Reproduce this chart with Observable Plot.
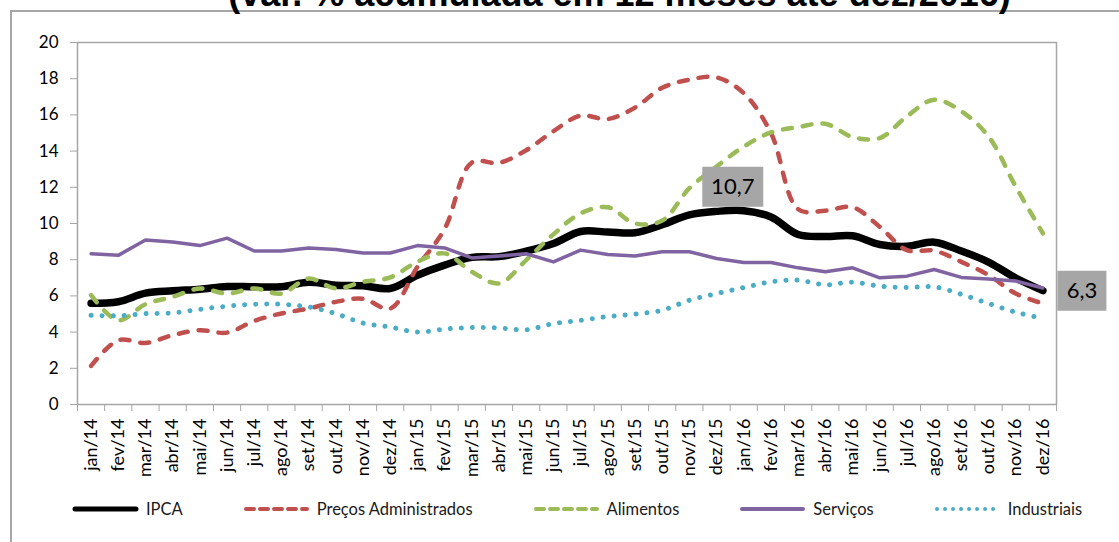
<!DOCTYPE html>
<html><head><meta charset="utf-8">
<script src="https://cdn.jsdelivr.net/npm/d3@7"></script>
<script src="https://cdn.jsdelivr.net/npm/@observablehq/plot@0.6"></script>
<style>
html,body{margin:0;padding:0;background:#fff;}
#wrap{position:relative;width:1119px;height:542px;overflow:hidden;font-family:Lato,"Noto Sans",sans-serif;background:#fff;}
#frame{position:absolute;left:10px;top:10px;width:1200px;height:600px;border-left:2px solid #a6a6a6;border-top:2px solid #a6a6a6;}
#title{position:absolute;left:0;width:1239px;top:-24px;text-align:center;font:bold 36px "Liberation Sans",Arial,sans-serif;color:#000;white-space:nowrap;line-height:36px;}
#chart{position:absolute;left:0;top:0;}
#legend{position:absolute;left:72px;top:499px;display:flex;gap:60px;align-items:center;font-size:16.5px;color:#1a1a1a;}
.item{display:flex;align-items:center;gap:7px;}
.item svg{display:block;}
</style>
</head><body>
<div id="wrap">
  <div id="frame"></div>
  <div id="title">(var. % acumulada em 12 meses até dez/2016)</div>
  <div id="chart"></div>
  <div id="legend"></div>
</div>
<script>
const months = ["jan/14","fev/14","mar/14","abr/14","mai/14","jun/14","jul/14","ago/14","set/14","out/14","nov/14","dez/14",
  "jan/15","fev/15","mar/15","abr/15","mai/15","jun/15","jul/15","ago/15","set/15","out/15","nov/15","dez/15",
  "jan/16","fev/16","mar/16","abr/16","mai/16","jun/16","jul/16","ago/16","set/16","out/16","nov/16","dez/16"];

const ipca = [5.59,5.68,6.15,6.28,6.37,6.52,6.50,6.51,6.75,6.59,6.56,6.41,
  7.14,7.70,8.13,8.17,8.47,8.89,9.56,9.53,9.49,9.93,10.48,10.67,
  10.71,10.36,9.39,9.28,9.32,8.84,8.74,8.97,8.48,7.87,6.99,6.29];

const administrados = [2.13,3.55,3.40,3.83,4.10,3.97,4.62,5.03,5.30,5.67,5.84,5.30,
  7.6,9.7,13.37,13.35,14.05,15.1,15.96,15.77,16.4,17.5,17.95,18.07,
  17.2,15.0,10.79,10.71,10.9,9.82,8.53,8.5,7.88,7.15,6.13,5.58];

const alimentos = [6.04,4.65,5.54,5.95,6.41,6.13,6.41,6.13,6.96,6.41,6.78,7.02,
  7.89,8.35,7.33,6.69,7.98,9.4,10.56,10.9,10.0,10.16,11.95,13.15,
  14.25,15.03,15.33,15.51,14.78,14.72,15.92,16.84,16.2,14.81,12.04,9.46];

const servicos = [8.33,8.24,9.09,8.98,8.78,9.19,8.48,8.48,8.65,8.56,8.37,8.37,
  8.78,8.65,8.1,8.2,8.33,7.88,8.53,8.29,8.2,8.44,8.44,8.07,
  7.85,7.85,7.55,7.33,7.55,7.0,7.09,7.46,7.02,6.93,6.82,6.44];

const industriais = [4.93,4.9,5.02,5.06,5.26,5.43,5.54,5.54,5.39,5.02,4.5,4.28,
  4.0,4.17,4.25,4.23,4.13,4.47,4.65,4.86,4.99,5.21,5.76,6.13,
  6.46,6.78,6.87,6.61,6.76,6.54,6.46,6.5,6.09,5.58,5.1,4.75];

const seriesNames = ["IPCA","Preços Administrados","Alimentos","Serviços","Industriais"];
const seriesValues = [ipca, administrados, alimentos, servicos, industriais];
const labelMonths = ["jan/16","dez/16"];

// styles (kept apart from data)
const styles = {
  "IPCA": {stroke:"#000000", strokeWidth:7.5, curve:"catmull-rom", legendWidth:5},
  "Preços Administrados": {stroke:"#c0504d", strokeWidth:4.5, strokeDasharray:"9,11", strokeLinecap:"round", curve:"catmull-rom", legendWidth:4},
  "Alimentos": {stroke:"#9bbb59", strokeWidth:4.5, strokeDasharray:"9,11", strokeLinecap:"round", curve:"catmull-rom", legendWidth:4},
  "Serviços": {stroke:"#8064a2", strokeWidth:3.5, curve:"linear", legendWidth:4},
  "Industriais": {stroke:"#4bacc6", strokeWidth:5, strokeDasharray:"0.01,11", strokeLinecap:"round", curve:"catmull-rom", legendWidth:4}
};
const labelStyle = {
  "jan/16": {dx:-11, dy:-24, w:61, h:40},
  "dez/16": {dx:39, dy:0, w:49, h:40}
};

const rows = [];
seriesNames.forEach((name, s) => {
  months.forEach((m, i) => rows.push({series:name, i, month:m, value:seriesValues[s][i]}));
});

const lineMarks = seriesNames.map(name => {
  const st = styles[name];
  return Plot.line(rows.filter(d => d.series === name), {
    x:"i", y:"value", stroke:st.stroke, strokeWidth:st.strokeWidth,
    strokeDasharray:st.strokeDasharray, strokeLinecap:st.strokeLinecap || "round",
    strokeLinejoin:"round", curve:st.curve
  });
});

const annRows = rows.filter(d => d.series === "IPCA" && labelMonths.includes(d.month));
const annMarks = annRows.flatMap(d => {
  const ls = labelStyle[d.month];
  const box = {draw(ctx){ ctx.rect(-ls.w/2, -ls.h/2, ls.w, ls.h); }};
  return [
    Plot.dot([d], {x:"i", y:"value", symbol:box, fill:"#a6a6a6", stroke:"none", dx:ls.dx, dy:ls.dy}),
    Plot.text([d], {x:"i", y:"value", text:v => d3.format(".1f")(v.value).replace(".", ","), dx:ls.dx, dy:ls.dy, fontSize:22, fill:"#000"})
  ];
});

const chart = Plot.plot({
  width:1119, height:490,
  marginLeft:77, marginRight:63, marginTop:42, marginBottom:86,
  style:{fontFamily:"Lato, 'Noto Sans', sans-serif", fontSize:"17px", color:"#000", background:"transparent"},
  x:{type:"linear", domain:[-0.5, months.length - 0.5], label:null},
  y:{domain:[0,20], label:null},
  marks:[
    Plot.frame({stroke:"#a6a6a6", strokeWidth:1.5}),
    Plot.axisY({ticks:d3.range(0, 21, 2), tickSize:7, tickPadding:12, stroke:"#a6a6a6", fill:"#000", fontSize:17, label:null}),
    Plot.axisX({ticks:d3.range(-0.5, months.length, 1), tickSize:7, tickFormat:() => "", stroke:"#a6a6a6", label:null}),
    Plot.axisX({ticks:d3.range(0, months.length), tickSize:0, tickPadding:14, tickRotate:-90, tickFormat:i => months[i], fontSize:18, fill:"#000", label:null}),
    ...lineMarks,
    ...annMarks
  ]
});
document.getElementById("chart").appendChild(chart);

// legend
const legend = document.getElementById("legend");
seriesNames.forEach(name => {
  const st = styles[name];
  const item = document.createElement("div");
  item.className = "item";
  const ns = "http://www.w3.org/2000/svg";
  const svg = document.createElementNS(ns, "svg");
  svg.setAttribute("width", 67); svg.setAttribute("height", 10);
  const ln = document.createElementNS(ns, "line");
  ln.setAttribute("x1", 3); ln.setAttribute("x2", 64); ln.setAttribute("y1", 5); ln.setAttribute("y2", 5);
  ln.setAttribute("stroke", st.stroke); ln.setAttribute("stroke-width", st.legendWidth);
  ln.setAttribute("stroke-linecap", st.strokeLinecap || "round");
  if (st.strokeDasharray) ln.setAttribute("stroke-dasharray", name === "Industriais" ? "0.01,8" : "8,6");
  svg.appendChild(ln);
  const span = document.createElement("span");
  span.textContent = name;
  item.appendChild(svg); item.appendChild(span);
  legend.appendChild(item);
});
</script>
</body></html>
